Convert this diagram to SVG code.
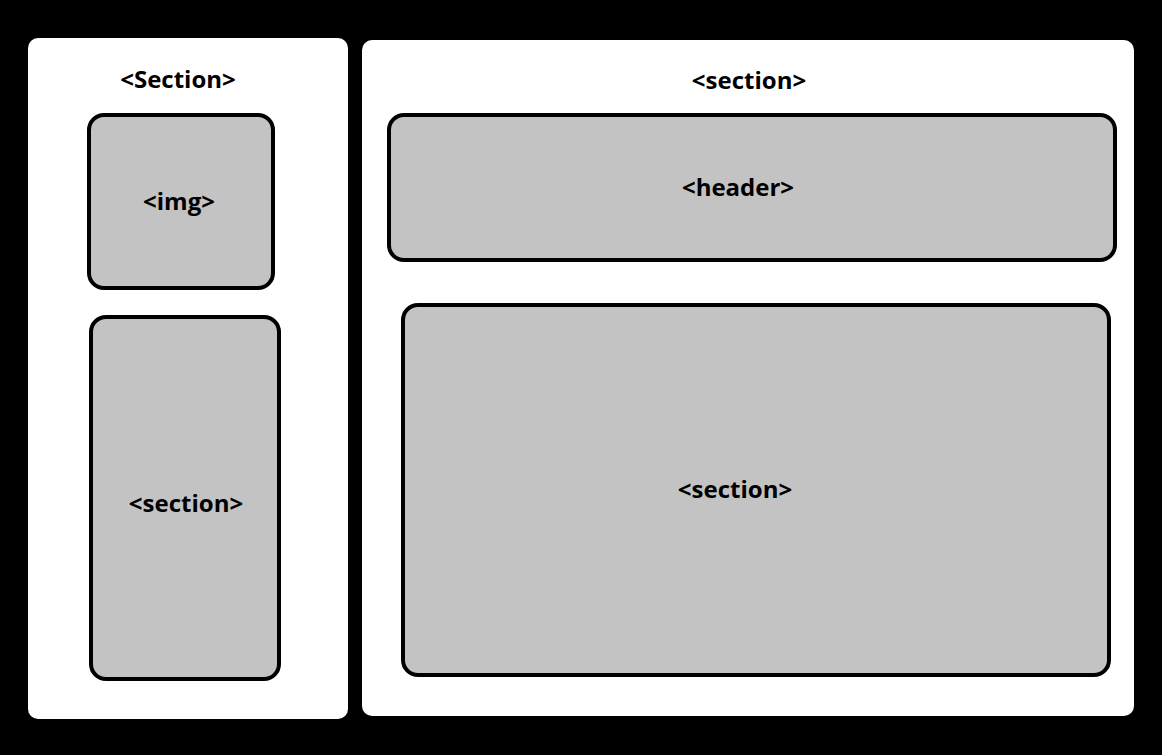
<svg xmlns="http://www.w3.org/2000/svg" width="1162" height="755" viewBox="0 0 1162 755">
<style>
.panel{fill:#ffffff;}
.box{fill:#c3c3c3;stroke:#000000;stroke-width:4;}
.lbl{font-family:"Open Sans","Noto Sans","Liberation Sans",sans-serif;font-weight:bold;font-size:24px;fill:#000000;text-anchor:middle;}
</style>
<rect x="0" y="0" width="1162" height="755" fill="#000000"/>
<g id="left-panel">
<rect class="panel" x="28" y="38" width="320" height="681" rx="10"/>
<text class="lbl" x="178" y="88">&lt;Section&gt;</text>
</g>
<g id="right-panel">
<rect class="panel" x="362" y="40" width="772" height="676" rx="10"/>
<text class="lbl" x="749" y="89">&lt;section&gt;</text>
</g>
<g id="img">
<rect class="box" x="89" y="115" width="184" height="173" rx="15"/>
<text class="lbl" x="179" y="210">&lt;img&gt;</text>
</g>
<g id="left-section">
<rect class="box" x="91" y="317" width="188" height="362" rx="15"/>
<text class="lbl" x="186" y="512">&lt;section&gt;</text>
</g>
<g id="header">
<rect class="box" x="389" y="115" width="726" height="145" rx="15"/>
<text class="lbl" x="738" y="196">&lt;header&gt;</text>
</g>
<g id="right-section">
<rect class="box" x="403" y="305" width="706" height="370" rx="15"/>
<text class="lbl" x="735" y="498">&lt;section&gt;</text>
</g>
<g id="connectors"></g>
</svg>
